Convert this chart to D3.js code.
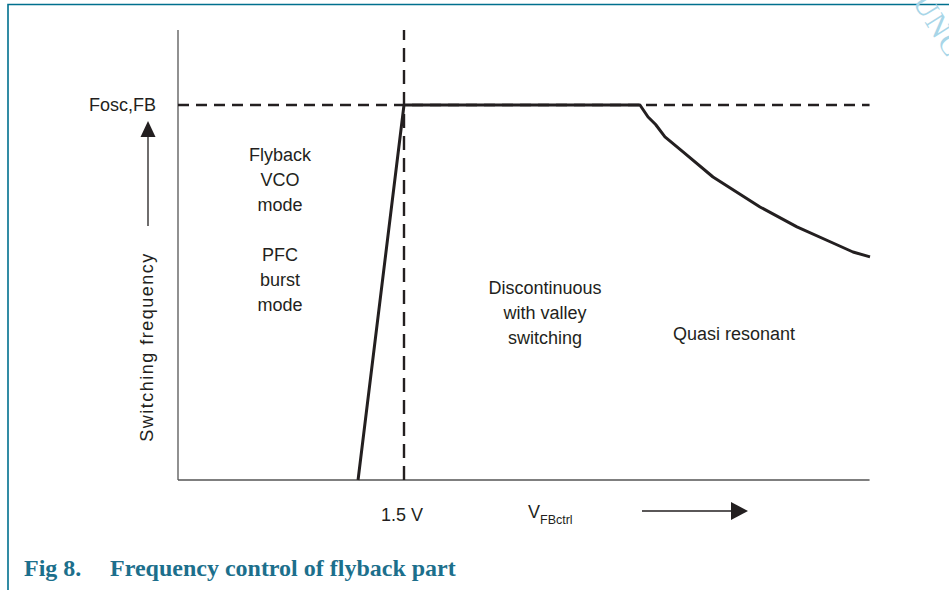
<!DOCTYPE html>
<html>
<head>
<meta charset="utf-8">
<script src="https://cdn.jsdelivr.net/npm/d3@7"></script>
<style>
  body { margin: 0; background: #fff; }
  svg { display: block; }
  .lbl { font-family: "Liberation Sans", Arial, sans-serif; font-size: 18px; fill: #231f20; }
</style>
</head>
<body>
<script>
// curve of switching frequency vs feedback voltage (V, normalized freq)
const curveV = [1.195, 1.5, 3.066, 3.12, 3.17, 3.232, 3.352, 3.551, 3.863, 4.108, 4.347, 4.480, 4.593];
const curveF = [0, 1, 1, 0.968, 0.948, 0.915, 0.875, 0.808, 0.728, 0.675, 0.632, 0.608, 0.595];

const threshold = 1.5;     // V
const foscLevel = 1;       // Fosc,FB

// region labels: [x in V, first line freq, lines]
const regionX = [0.677, 0.677, 2.436, 3.69];
const regionY = [0.851, 0.584, 0.496, 0.373];
const regionLines = [
  ["Flyback", "VCO", "mode"],
  ["PFC", "burst", "mode"],
  ["Discontinuous", "with valley", "switching"],
  ["Quasi resonant"]
];

const W = 949, H = 590;
const svg = d3.select("body").append("svg").attr("width", W).attr("height", H);

// frame
svg.append("path")
  .attr("d", `M8,${H} V4.5 H${W}`)
  .attr("fill", "none")
  .attr("stroke", "#00708e")
  .attr("stroke-width", 1.6);

// watermark
svg.append("text")
  .attr("transform", "translate(912,2) rotate(58)")
  .attr("font-family", "Liberation Serif, serif")
  .attr("font-size", 30)
  .attr("fill", "#a8d6e8")
  .attr("letter-spacing", 1.5)
  .text("UNCO");

const x = d3.scaleLinear().domain([0, 4.8]).range([178, 901.2]);
const y = d3.scaleLinear().domain([0, 1]).range([480, 105]);

// axes
svg.append("line")
  .attr("x1", x(0)).attr("x2", x(0))
  .attr("y1", y(0)).attr("y2", y(1.2))
  .attr("stroke", "#555").attr("stroke-width", 1.3);
svg.append("line")
  .attr("x1", x(0)).attr("x2", x(4.59))
  .attr("y1", y(0)).attr("y2", y(0))
  .attr("stroke", "#555").attr("stroke-width", 1.6);

// dashed reference lines
svg.append("line")
  .attr("x1", x(0)).attr("x2", x(4.59))
  .attr("y1", y(foscLevel)).attr("y2", y(foscLevel))
  .attr("stroke", "#231f20").attr("stroke-width", 2.4)
  .attr("stroke-dasharray", "11,7");
svg.append("line")
  .attr("x1", x(threshold)).attr("x2", x(threshold))
  .attr("y1", y(0)).attr("y2", y(1.2))
  .attr("stroke", "#231f20").attr("stroke-width", 2.4)
  .attr("stroke-dasharray", "14,8");

// curve
svg.append("path")
  .datum(d3.zip(curveV, curveF))
  .attr("d", d3.line().x(d => x(d[0])).y(d => y(d[1])))
  .attr("fill", "none")
  .attr("stroke", "#231f20")
  .attr("stroke-width", 3)
  .attr("stroke-linejoin", "round");

// region labels
regionLines.forEach((lines, i) => {
  const t = svg.append("text").attr("class", "lbl").attr("text-anchor", "middle");
  lines.forEach((s, j) => {
    t.append("tspan")
      .attr("x", x(regionX[i]))
      .attr("y", y(regionY[i]) + j * 25)
      .text(s);
  });
});

// Fosc,FB label
svg.append("text").attr("class", "lbl")
  .attr("x", 156).attr("y", y(foscLevel) + 6)
  .attr("text-anchor", "end")
  .text("Fosc,FB");

// y axis title + arrow
svg.append("text").attr("class", "lbl")
  .attr("transform", `translate(153,${347}) rotate(-90)`)
  .attr("text-anchor", "middle")
  .attr("letter-spacing", 1.5)
  .text("Switching frequency");
svg.append("line")
  .attr("x1", 148).attr("x2", 148).attr("y1", 136).attr("y2", 226)
  .attr("stroke", "#231f20").attr("stroke-width", 1.3);
svg.append("path")
  .attr("d", "M148,121 L155.5,137 L140.5,137 Z")
  .attr("fill", "#231f20");

// x axis labels
svg.append("text").attr("class", "lbl")
  .attr("x", x(threshold) - 2).attr("y", 521)
  .attr("text-anchor", "middle")
  .text("1.5 V");
const vt = svg.append("text").attr("class", "lbl").attr("x", 528).attr("y", 518);
vt.append("tspan").text("V");
vt.append("tspan").attr("font-size", 12.5).attr("dy", 6).text("FBctrl");

svg.append("line")
  .attr("x1", 642).attr("x2", 732).attr("y1", 511).attr("y2", 511)
  .attr("stroke", "#231f20").attr("stroke-width", 1.3);
svg.append("path")
  .attr("d", "M748,511 L731,502 L731,520 Z")
  .attr("fill", "#231f20");

// caption
const cap = svg.append("g")
  .attr("font-family", "Liberation Serif, 'Times New Roman', serif")
  .attr("font-weight", "bold")
  .attr("font-size", 24)
  .attr("fill", "#1c6f8c");
cap.append("text").attr("x", 24).attr("y", 576).text("Fig 8.");
cap.append("text").attr("x", 110).attr("y", 576).text("Frequency control of flyback part");
</script>
</body>
</html>
